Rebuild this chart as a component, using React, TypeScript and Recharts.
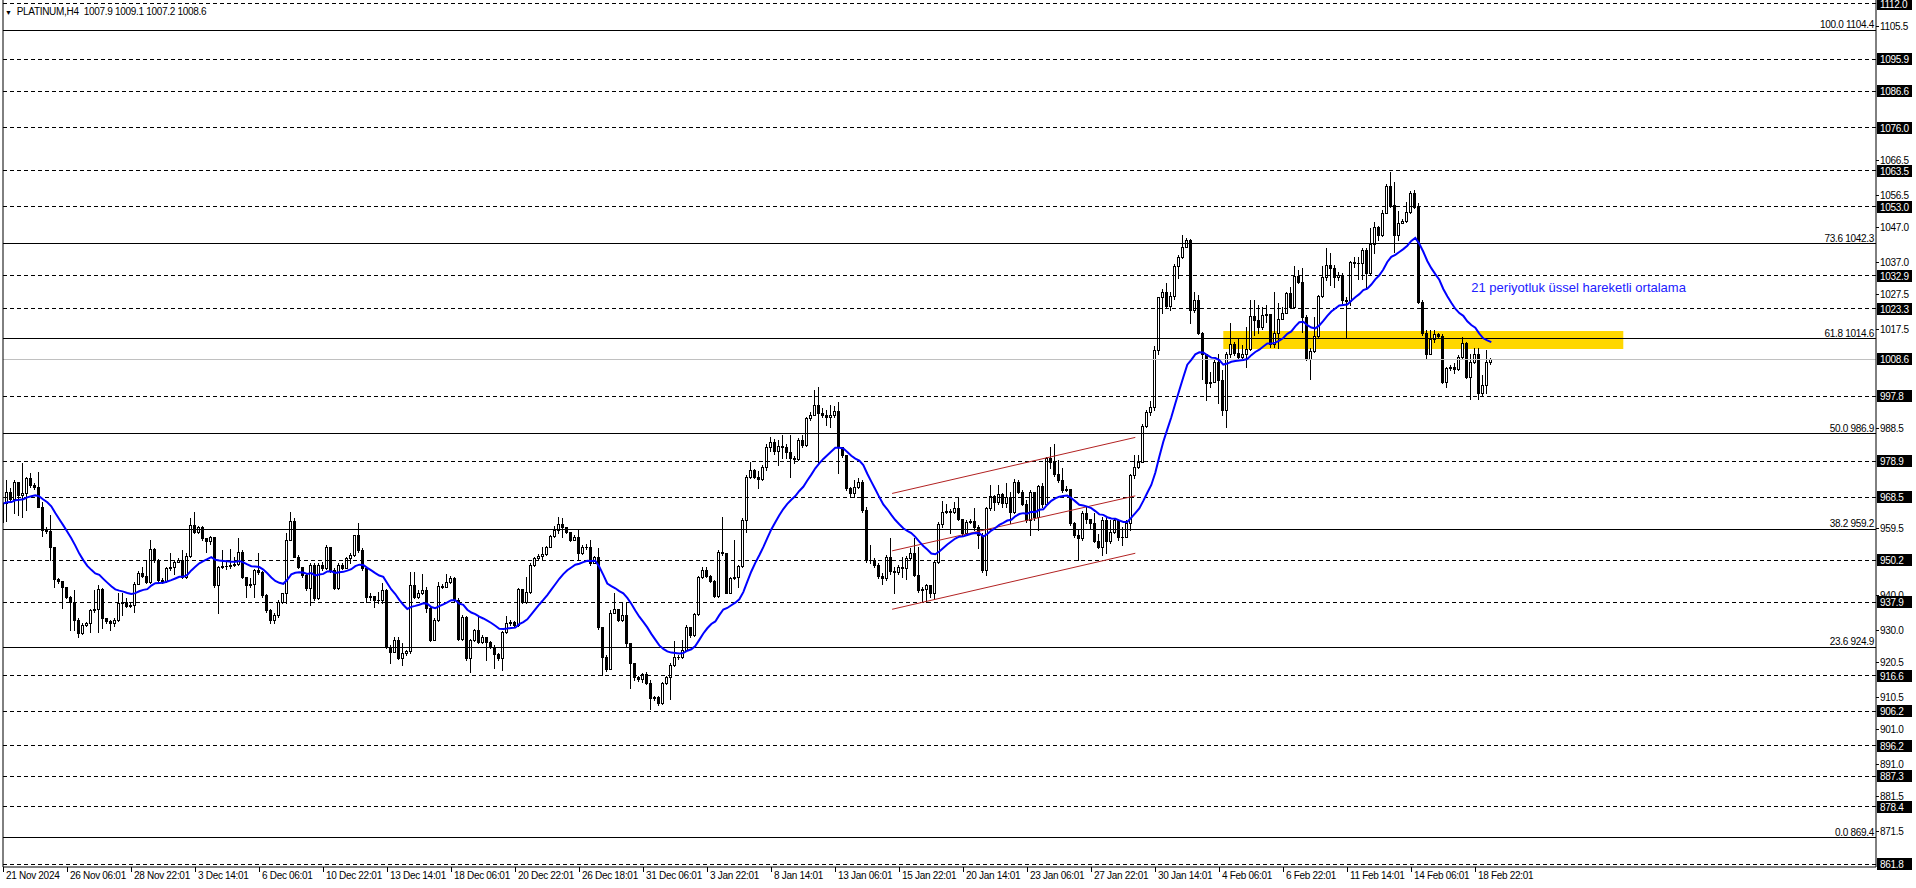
import React from "react";
import {
  Bar,
  ComposedChart,
  Line,
  ReferenceArea,
  ReferenceDot,
  ReferenceLine,
  XAxis,
  YAxis,
} from "recharts";

const FONT = '"Liberation Sans", Arial, sans-serif';
const BLUE = "#0000ff";
const CHANNEL = "#b22222";
const ZONE = "#ffd700";

// PLATINUM H4, 21 Nov 2024 -> 19 Feb 2025. Open of each bar = previous close.
const firstOpen = 961.4;

const closes = [
  966.7, 970.1, 967.9, 972.8, 969.1, 969.6, 974.0, 972.1, 971.4, 965.8,
  959.0, 958.7, 954.1, 944.6, 944.1, 942.3, 939.6, 938.1, 932.8, 928.9,
  931.3, 931.8, 935.7, 935.9, 941.7, 933.3, 932.6, 931.8, 932.8, 937.8,
  938.1, 936.8, 937.1, 943.4, 946.5, 945.6, 943.9, 953.3, 950.2, 944.4,
  944.2, 947.8, 948.1, 949.7, 950.2, 945.4, 951.4, 960.4, 958.5, 959.7,
  956.5, 955.8, 956.8, 942.9, 948.3, 948.5, 948.6, 948.8, 949.1, 952.7,
  945.4, 942.9, 943.2, 947.3, 946.8, 940.0, 935.7, 932.8, 934.2, 938.1,
  940.5, 956.1, 961.7, 951.2, 948.3, 945.9, 942.0, 948.8, 939.1, 948.8,
  947.8, 953.9, 947.3, 942.0, 948.8, 947.8, 950.7, 951.7, 957.5, 953.1,
  947.8, 939.6, 939.8, 938.6, 938.6, 941.5, 925.0, 923.6, 926.9, 921.6,
  923.1, 923.7, 942.9, 939.6, 940.7, 941.5, 936.2, 927.1, 932.8, 942.7,
  942.5, 943.9, 944.9, 938.6, 927.4, 933.7, 921.6, 926.9, 929.9, 926.5,
  927.7, 926.5, 925.0, 922.9, 921.6, 929.4, 931.8, 932.3, 931.3, 941.7,
  938.1, 941.0, 948.8, 950.7, 951.4, 952.0, 954.1, 957.2, 959.0, 960.7,
  959.7, 958.5, 956.2, 956.8, 952.2, 954.1, 953.9, 949.3, 951.0, 930.8,
  922.1, 918.4, 934.9, 935.9, 932.8, 934.2, 926.0, 920.2, 916.3, 915.5,
  917.2, 914.5, 910.0, 910.3, 908.5, 914.5, 916.3, 919.7, 922.1, 921.9,
  924.0, 930.8, 928.4, 934.5, 945.2, 947.3, 945.6, 944.2, 939.7, 952.6,
  952.2, 940.7, 944.9, 945.4, 948.5, 961.9, 974.5, 976.4, 974.5, 973.7,
  977.4, 983.0, 984.5, 982.0, 983.5, 983.2, 981.7, 979.8, 979.5, 985.1,
  983.7, 991.4, 992.4, 995.3, 992.9, 992.4, 991.7, 992.4, 993.7, 983.2,
  980.8, 971.1, 969.6, 971.6, 973.0, 964.8, 950.2, 950.2, 948.8, 945.6,
  944.9, 951.0, 947.1, 946.8, 948.3, 948.0, 950.7, 952.2, 945.9, 941.5,
  941.7, 943.0, 940.5, 949.7, 960.7, 964.3, 964.6, 964.3, 965.3, 962.3,
  958.0, 961.4, 961.7, 959.9, 957.5, 947.3, 965.3, 968.8, 967.2, 969.4,
  966.9, 968.5, 964.3, 973.0, 970.1, 966.5, 962.0, 970.1, 962.8, 971.7,
  966.5, 979.8, 978.8, 975.2, 973.5, 970.6, 970.8, 960.9, 957.5, 956.5,
  964.0, 962.3, 961.1, 955.8, 953.9, 962.0, 955.8, 958.4, 961.8, 956.8,
  957.0, 961.1, 975.0, 977.4, 978.8, 989.2, 993.4, 994.8, 1011.3, 1026.6,
  1028.3, 1024.1, 1027.0, 1035.7, 1038.3, 1041.4, 1043.3, 1022.9, 1026.0, 1016.3,
  1010.3, 1001.8, 1002.1, 1007.9, 1002.6, 993.8, 1010.3, 1013.0, 1010.5, 1009.4,
  1010.1, 1011.5, 1021.2, 1020.0, 1018.1, 1021.5, 1021.8, 1013.0, 1016.3, 1020.2,
  1022.2, 1028.0, 1023.9, 1032.8, 1031.2, 1021.0, 1008.6, 1011.1, 1015.4, 1027.0,
  1032.6, 1036.0, 1035.1, 1032.6, 1033.1, 1025.8, 1025.6, 1037.0, 1036.5, 1036.7,
  1040.4, 1033.6, 1042.3, 1047.0, 1044.8, 1051.3, 1059.0, 1053.5, 1044.8, 1048.2,
  1048.9, 1051.5, 1056.9, 1053.0, 1025.4, 1016.3, 1010.3, 1014.4, 1016.0, 1015.4,
  1002.1, 1006.0, 1006.3, 1005.7, 1009.4, 1013.4, 1003.5, 1007.9, 1010.3, 998.7,
  1001.1, 1007.9, 1008.6,
];

const highs = [
  967.7, 973.5, 971.1, 973.5, 973.0, 978.4, 974.3, 975.4, 972.5, 975.9,
  967.2, 959.7, 963.3, 954.1, 944.9, 944.2, 942.5, 939.8, 941.5, 933.3,
  931.8, 932.3, 935.9, 941.5, 943.0, 942.0, 933.5, 932.8, 933.3, 940.5,
  940.5, 939.1, 937.8, 943.9, 947.1, 948.3, 950.2, 956.2, 953.6, 950.4,
  944.9, 948.3, 952.4, 950.2, 950.7, 953.1, 952.2, 962.4, 964.3, 960.1,
  960.1, 956.2, 957.2, 957.0, 948.5, 953.1, 950.2, 953.3, 951.2, 956.5,
  953.1, 945.4, 944.9, 947.5, 952.2, 947.1, 940.3, 935.9, 934.7, 938.6,
  940.7, 958.0, 964.3, 962.4, 951.7, 948.3, 946.1, 949.3, 949.3, 949.3,
  949.7, 954.6, 954.1, 947.8, 949.3, 949.4, 951.2, 952.2, 957.5, 960.9,
  953.6, 948.1, 940.5, 939.6, 941.0, 943.6, 941.7, 925.5, 927.7, 927.9,
  926.0, 924.2, 946.8, 946.8, 941.5, 946.2, 942.5, 936.6, 933.3, 943.9,
  943.4, 946.3, 945.6, 945.2, 939.1, 934.2, 933.9, 927.4, 930.3, 933.7,
  928.4, 927.9, 926.8, 925.5, 923.1, 929.7, 934.0, 932.8, 932.6, 942.0,
  941.7, 945.4, 949.3, 951.2, 952.0, 954.1, 954.3, 957.5, 960.1, 962.8,
  962.4, 959.4, 958.5, 957.5, 959.4, 954.6, 954.9, 956.2, 951.4, 953.6,
  930.8, 922.6, 935.7, 940.5, 935.9, 937.6, 937.6, 926.2, 920.4, 916.5,
  917.4, 917.7, 915.3, 910.7, 910.7, 914.8, 916.5, 920.2, 926.8, 922.6,
  926.9, 931.3, 930.8, 934.7, 945.6, 948.3, 948.1, 945.9, 944.4, 953.1,
  962.8, 952.4, 945.4, 956.2, 948.8, 962.4, 975.0, 978.6, 976.6, 976.2,
  977.9, 984.0, 986.0, 985.5, 985.0, 986.6, 984.0, 986.6, 980.5, 985.6,
  986.6, 991.9, 993.4, 999.7, 1000.5, 994.4, 993.9, 995.3, 995.0, 996.3,
  983.2, 980.8, 971.6, 973.5, 974.0, 973.5, 965.7, 954.6, 950.7, 949.3,
  946.5, 951.7, 956.5, 948.3, 948.8, 951.2, 951.4, 953.6, 956.5, 954.1,
  942.5, 943.4, 943.0, 950.2, 961.4, 967.5, 966.5, 965.0, 967.2, 968.6,
  962.3, 962.0, 962.3, 965.5, 960.5, 958.0, 965.7, 972.0, 969.1, 972.0,
  969.8, 972.7, 970.1, 973.7, 973.5, 970.6, 967.7, 970.6, 969.6, 972.0,
  972.5, 980.3, 983.2, 984.0, 979.3, 976.9, 971.8, 966.7, 961.4, 958.9,
  964.6, 965.7, 961.9, 963.8, 957.8, 962.8, 962.8, 961.9, 962.3, 960.1,
  959.7, 961.9, 975.3, 980.8, 980.8, 989.8, 994.0, 996.6, 1012.5, 1026.8,
  1029.0, 1030.9, 1028.3, 1036.3, 1038.9, 1044.8, 1043.8, 1043.6, 1028.3, 1027.3,
  1016.6, 1010.3, 1005.0, 1008.4, 1010.3, 1005.5, 1010.8, 1019.1, 1013.7, 1014.4,
  1012.8, 1018.1, 1026.0, 1025.8, 1024.4, 1023.9, 1024.4, 1020.5, 1028.3, 1024.9,
  1023.9, 1028.3, 1029.7, 1035.7, 1034.6, 1035.1, 1021.5, 1011.8, 1021.0, 1027.3,
  1035.7, 1040.9, 1039.4, 1036.0, 1034.1, 1033.8, 1026.8, 1037.3, 1038.5, 1038.5,
  1040.9, 1040.9, 1046.7, 1048.6, 1047.4, 1052.0, 1059.6, 1063.2, 1060.3, 1051.8,
  1049.3, 1054.5, 1057.7, 1057.9, 1054.0, 1025.8, 1017.1, 1017.1, 1017.1, 1016.3,
  1016.1, 1006.5, 1006.9, 1007.4, 1009.8, 1015.0, 1013.7, 1010.3, 1011.8, 1011.8,
  1004.0, 1011.3, 1009.1,
];

const lows = [
  960.9, 961.7, 967.5, 963.8, 963.3, 962.8, 964.8, 971.6, 970.8, 965.6,
  957.2, 958.0, 950.2, 942.5, 943.6, 936.2, 939.1, 929.9, 929.9, 927.9,
  928.7, 931.0, 929.4, 935.2, 929.4, 930.4, 932.0, 929.9, 931.0, 932.6,
  934.2, 936.5, 936.6, 935.2, 943.2, 945.2, 943.6, 943.6, 949.7, 943.9,
  943.6, 943.9, 947.3, 946.1, 949.7, 944.9, 944.9, 951.2, 958.2, 958.2,
  956.0, 952.7, 954.9, 942.5, 934.7, 947.8, 947.5, 947.8, 948.5, 948.8,
  944.9, 939.6, 942.5, 939.6, 946.3, 939.6, 935.2, 932.0, 931.8, 933.7,
  937.6, 937.6, 956.1, 951.0, 947.8, 945.4, 941.5, 937.1, 938.6, 938.8,
  947.3, 947.5, 946.8, 941.7, 941.7, 947.5, 947.8, 949.4, 951.4, 952.7,
  947.3, 938.1, 938.6, 936.6, 937.8, 937.8, 924.5, 920.2, 923.6, 921.3,
  919.7, 922.6, 923.1, 939.1, 939.1, 940.3, 935.2, 926.8, 926.9, 932.6,
  942.0, 942.3, 943.6, 938.1, 926.9, 927.1, 921.1, 917.7, 926.8, 926.2,
  926.2, 921.1, 924.5, 918.7, 921.1, 918.2, 929.1, 931.3, 930.8, 931.0,
  937.6, 937.6, 940.7, 948.5, 950.2, 950.2, 951.7, 953.9, 956.8, 958.2,
  957.0, 958.0, 955.9, 956.0, 950.2, 952.0, 953.3, 948.8, 949.4, 930.3,
  916.8, 918.0, 934.5, 935.2, 932.6, 932.6, 925.0, 912.9, 915.3, 915.1,
  914.8, 914.3, 906.8, 909.5, 908.0, 908.3, 914.3, 909.7, 919.4, 921.3,
  921.6, 923.8, 927.9, 928.1, 934.2, 944.9, 945.2, 943.9, 939.4, 939.6,
  951.7, 940.5, 940.5, 944.6, 942.3, 948.1, 958.5, 974.0, 974.0, 971.1,
  973.5, 976.5, 982.0, 981.0, 978.0, 979.8, 980.0, 974.5, 978.5, 979.2,
  983.0, 983.4, 991.0, 992.3, 978.4, 991.7, 989.5, 989.0, 991.7, 975.4,
  980.3, 970.6, 968.6, 968.6, 971.1, 964.3, 949.7, 949.3, 948.3, 944.9,
  943.4, 944.4, 946.3, 940.5, 946.3, 945.4, 944.6, 950.2, 945.6, 941.0,
  938.1, 938.1, 939.4, 939.1, 949.4, 959.9, 963.8, 958.0, 963.8, 962.0,
  957.5, 957.8, 960.9, 959.0, 953.6, 946.8, 945.9, 964.8, 964.8, 966.5,
  965.7, 965.7, 961.1, 963.8, 969.6, 966.2, 961.4, 957.5, 961.9, 958.9,
  965.7, 966.2, 976.9, 974.7, 973.0, 970.1, 970.4, 960.4, 956.8, 950.2,
  956.0, 961.1, 959.4, 955.5, 953.6, 951.7, 952.2, 955.1, 958.0, 956.0,
  954.6, 956.8, 959.0, 974.0, 976.9, 978.8, 988.9, 992.5, 994.0, 1010.3,
  1022.0, 1023.9, 1022.9, 1026.3, 1032.2, 1038.0, 1041.4, 1019.1, 1022.5, 1016.1,
  1002.8, 996.8, 1000.6, 1002.6, 995.8, 992.4, 989.0, 1009.4, 1009.8, 1008.4,
  1008.9, 1006.4, 1011.3, 1015.7, 1016.3, 1017.3, 1019.5, 1012.3, 1012.3, 1011.8,
  1020.5, 1022.0, 1023.4, 1023.4, 1030.7, 1016.6, 1008.4, 1003.0, 1010.8, 1015.2,
  1026.8, 1031.7, 1030.2, 1029.7, 1031.7, 1024.9, 1015.2, 1024.4, 1035.5, 1032.1,
  1032.1, 1029.2, 1033.1, 1039.4, 1043.3, 1044.5, 1051.1, 1053.0, 1039.9, 1043.3,
  1048.2, 1048.6, 1051.1, 1052.5, 1024.9, 1015.7, 1008.9, 1011.5, 1013.7, 1014.7,
  1001.6, 1000.6, 1005.5, 1004.5, 1005.5, 1008.9, 1003.1, 997.2, 1007.6, 997.2,
  997.9, 998.7, 1007.2,
];

// one label every 16 bars
const timeLabels = [
  "21 Nov 2024", "26 Nov 06:01", "28 Nov 22:01", "3 Dec 14:01", "6 Dec 06:01",
  "10 Dec 22:01", "13 Dec 14:01", "18 Dec 06:01", "20 Dec 22:01", "26 Dec 18:01",
  "31 Dec 06:01", "3 Jan 22:01", "8 Jan 14:01", "13 Jan 06:01", "15 Jan 22:01",
  "20 Jan 14:01", "23 Jan 06:01", "27 Jan 22:01", "30 Jan 14:01", "4 Feb 06:01",
  "6 Feb 22:01", "11 Feb 14:01", "14 Feb 06:01", "18 Feb 22:01",
];

const fibLevels = [1104.4, 1042.3, 1014.6, 986.9, 959.2, 924.9, 869.4];
const fibRatios = ["100.0", "73.6", "61.8", "50.0", "38.2", "23.6", "0.0"];

const dashedLevels = [
  1112.0, 1095.9, 1086.6, 1076.0, 1063.5, 1053.0, 1032.9, 1023.3, 997.8,
  978.9, 968.5, 950.2, 937.9, 916.6, 906.2, 896.2, 887.3, 878.4, 861.8,
];

// price scale ticks that are not hidden under the level boxes
const priceTicks = [
  1105.5, 1066.5, 1056.5, 1047.0, 1037.0, 1027.5, 1017.5, 988.5, 959.5,
  940.0, 930.0, 920.5, 910.5, 901.0, 891.0, 881.5, 871.5,
];

const lastPrice = 1008.6;

// ascending channel, bar index -> price
const channelBars = [222.2, 283];
const channelUpper = [969.6, 985.9];
const channelMiddle = [952.9, 968.9];
const channelLower = [935.9, 952.2];

const zoneBars = [305, 405];
const zonePrices = [1011.6, 1016.85];

const emaNote = "21 periyotluk üssel hareketli ortalama";
const emaNoteAt = [367, 1028.2];
const emaPeriod = 21;

const yDomain = [860.94, 1113.13];
const xDomain = [-0.075, 468.175];

const k = 2 / (emaPeriod + 1);
let ema = closes[0];
const data = closes.map((c, i) => {
  const o = i === 0 ? firstOpen : closes[i - 1];
  const h = Math.max(highs[i], o, c);
  const l = Math.min(lows[i], o, c);
  ema = i === 0 ? c : k * c + (1 - k) * ema;
  return { i, o, h, l, c, range: [l, h], ema };
});

const labelTicks = timeLabels.map((_, n) => n * 16);
const boxSet = new Set([...dashedLevels, lastPrice]);
const yTicks = [...priceTicks, ...dashedLevels, lastPrice];

const txt = { fontFamily: FONT, fontSize: 10, letterSpacing: -0.3 };

function Candle(props: any) {
  const { x, y, width, height, payload } = props;
  if (x == null || y == null || !payload) return null;
  const { o, c, h, l } = payload;
  const span = h - l || 1;
  const py = (p: number) => y + ((h - p) / span) * height;
  const col = Math.round(x + width / 2 - 0.5);
  const top = Math.round(py(Math.max(o, c)));
  const bot = Math.round(py(Math.min(o, c)));
  const yH = Math.round(y);
  const yL = Math.round(y + height);
  return (
    <g shapeRendering="crispEdges">
      <line x1={col + 0.5} x2={col + 0.5} y1={yH} y2={yL + 1} stroke="#000" />
      {bot - top < 1 ? (
        <line x1={col - 1} x2={col + 2} y1={top + 0.5} y2={top + 0.5} stroke="#000" />
      ) : c >= o ? (
        <rect x={col - 0.5} y={top + 0.5} width={2} height={bot - top} fill="#fff" stroke="#000" />
      ) : (
        <rect x={col - 1} y={top} width={3} height={bot - top + 1} fill="#000" />
      )}
    </g>
  );
}

function PriceTick(props: any) {
  const { x, y, payload } = props;
  const v = payload.value as number;
  const yy = Math.round(y);
  if (boxSet.has(v)) {
    return (
      <g>
        <rect x={x + 1} y={yy - 6} width={35} height={12} fill="#000" />
        <text x={x + 4} y={yy + 4} fill="#fff" {...txt}>
          {v.toFixed(1)}
        </text>
      </g>
    );
  }
  return (
    <g>
      <line x1={x} x2={x + 3} y1={yy + 0.5} y2={yy + 0.5} stroke="#000" />
      <text x={x + 4} y={yy + 4} fill="#000" {...txt}>
        {v.toFixed(1)}
      </text>
    </g>
  );
}

function TimeTick(props: any) {
  const { x, y, payload } = props;
  const n = Math.round(payload.value / 16);
  const xx = Math.round(x);
  return (
    <g>
      <line x1={xx + 0.5} x2={xx + 0.5} y1={y} y2={y + 5} stroke="#000" />
      <text x={xx + 3} y={y + 12} fill="#000" {...txt}>
        {timeLabels[n]}
      </text>
    </g>
  );
}

export default function App() {
  return (
    <div style={{ position: "absolute", left: 0, top: 0, width: 1916, height: 888, background: "#fff" }}>
      <ComposedChart
        width={1916}
        height={888}
        data={data}
        margin={{ top: 0, right: 0, left: 0, bottom: 0 }}
      >
        <XAxis
          dataKey="i"
          type="number"
          domain={xDomain}
          allowDataOverflow
          ticks={labelTicks}
          interval={0}
          tick={<TimeTick />}
          tickSize={0}
          tickMargin={0}
          tickLine={false}
          height={21}
          axisLine={{ stroke: "#000" }}
        />
        <YAxis
          orientation="right"
          type="number"
          domain={yDomain}
          allowDataOverflow
          ticks={yTicks}
          interval={0}
          tick={<PriceTick />}
          tickSize={0}
          tickMargin={0}
          tickLine={false}
          width={40}
          axisLine={{ stroke: "#000" }}
        />
        <YAxis
          yAxisId="frame"
          orientation="left"
          width={3}
          domain={[0, 1]}
          tick={false}
          tickLine={false}
          axisLine={{ stroke: "#000" }}
        />

        <ReferenceArea
          x1={zoneBars[0]}
          x2={zoneBars[1]}
          y1={zonePrices[0]}
          y2={zonePrices[1]}
          fill={ZONE}
          fillOpacity={1}
          stroke="none"
        />

        {dashedLevels.map((v) => (
          <ReferenceLine
            key={`d${v}`}
            y={v}
            stroke="#000"
            strokeDasharray="4 3"
            shapeRendering="crispEdges"
          />
        ))}
        <ReferenceLine y={lastPrice} stroke="#c0c0c0" shapeRendering="crispEdges" />
        {fibLevels.map((v, n) => (
          <ReferenceLine
            key={`f${v}`}
            y={v}
            stroke="#000"
            shapeRendering="crispEdges"
            label={{
              content: (p: any) => {
                const vb = p.viewBox || {};
                return (
                  <text x={vb.x + vb.width - 2} y={vb.y - 2} textAnchor="end" fill="#000" {...txt}>
                    {`${fibRatios[n]} ${v.toFixed(1)}`}
                  </text>
                );
              },
            }}
          />
        ))}

        {[channelUpper, channelMiddle, channelLower].map((ch, n) => (
          <ReferenceLine
            key={`c${n}`}
            segment={[
              { x: channelBars[0], y: ch[0] },
              { x: channelBars[1], y: ch[1] },
            ]}
            stroke={CHANNEL}
            strokeWidth={1}
          />
        ))}

        <Bar
          dataKey="range"
          barSize={3}
          isAnimationActive={false}
          shape={(p: any) => <Candle {...p} />}
        />
        <Line
          dataKey="ema"
          type="linear"
          stroke={BLUE}
          strokeWidth={2}
          dot={false}
          activeDot={false}
          isAnimationActive={false}
        />

        <ReferenceDot
          x={emaNoteAt[0]}
          y={emaNoteAt[1]}
          r={1}
          fill="none"
          stroke="none"
          label={{
            content: (p: any) => {
              const vb = p.viewBox || {};
              return (
                <text x={vb.x + 1} y={vb.y + 1} fill="#2020ff" fontFamily={FONT} fontSize={13}>
                  {emaNote}
                </text>
              );
            },
          }}
        />
      </ComposedChart>
      <div
        style={{
          position: "absolute",
          left: 5,
          top: 6,
          fontFamily: FONT,
          fontSize: 10,
          letterSpacing: -0.3,
          lineHeight: "12px",
          whiteSpace: "pre",
          color: "#000",
        }}
      >
        <span style={{ fontSize: 7, marginRight: 5 }}>▼</span>
        {"PLATINUM,H4  1007.9 1009.1 1007.2 1008.6"}
      </div>
    </div>
  );
}
